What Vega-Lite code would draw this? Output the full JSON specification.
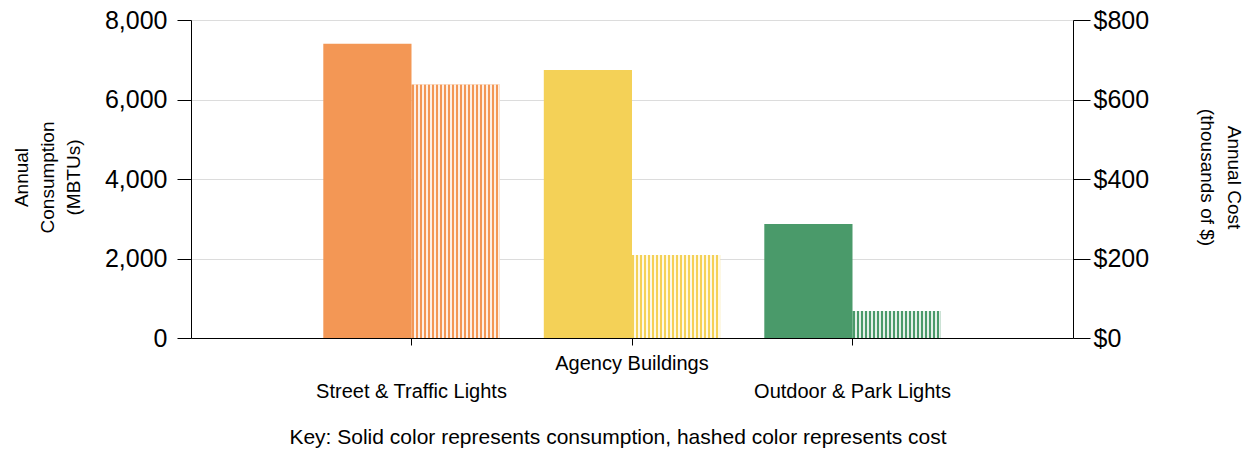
{
  "$schema": "https://vega.github.io/schema/vega-lite/v6.json",
  "width": 882,
  "height": 318,
  "autosize": {"type": "none"},
  "padding": {"left": 191, "top": 20, "right": 170, "bottom": 121},
  "background": "white",
  "config": {"font": "Liberation Sans", "view": {"stroke": null}},
  "title": {
    "text": "Key: Solid color represents consumption, hashed color represents cost",
    "orient": "bottom",
    "fontSize": 21,
    "fontWeight": "normal",
    "color": "black",
    "offset": 26,
    "dx": -14
  },
  "data": {
    "values": [
      {"category": "Street & Traffic Lights", "measure": "Consumption", "value": 7400},
      {"category": "Street & Traffic Lights", "measure": "Cost", "value": 638},
      {"category": "Agency Buildings", "measure": "Consumption", "value": 6740},
      {"category": "Agency Buildings", "measure": "Cost", "value": 209},
      {"category": "Outdoor & Park Lights", "measure": "Consumption", "value": 2870},
      {"category": "Outdoor & Park Lights", "measure": "Cost", "value": 68}
    ]
  },
  "encoding": {
    "x": {
      "field": "category",
      "type": "nominal",
      "sort": null,
      "scale": {"paddingInner": 0.2, "paddingOuter": 0.6},
      "axis": {
        "title": null,
        "labelAngle": 0,
        "labelFontSize": 20,
        "labelColor": "black",
        "labelPadding": 8,
        "labelLimit": 400,
        "labelLineHeight": 28,
        "labelOverlap": false,
        "labelExpr": "datum.value == 'Agency Buildings' ? datum.value : ['', datum.value]",
        "tickSize": 7,
        "tickColor": "black",
        "domainColor": "black",
        "grid": false
      }
    },
    "xOffset": {
      "field": "measure",
      "type": "nominal",
      "scale": {"domain": ["Consumption", "Cost"], "paddingInner": 0, "paddingOuter": 0}
    },
    "color": {
      "field": "category",
      "type": "nominal",
      "sort": null,
      "scale": {
        "domain": ["Street & Traffic Lights", "Agency Buildings", "Outdoor & Park Lights"],
        "range": ["#F39755", "#F4D157", "#4A9A6A"]
      },
      "legend": null
    }
  },
  "layer": [
    {
      "transform": [{"filter": "datum.measure == 'Consumption'"}],
      "mark": {"type": "bar"},
      "encoding": {
        "y": {
          "field": "value",
          "type": "quantitative",
          "scale": {"domain": [0, 8000]},
          "axis": {
            "orient": "left",
            "values": [0, 2000, 4000, 6000, 8000],
            "format": ",d",
            "labelFontSize": 25,
            "labelColor": "black",
            "labelPadding": 10,
            "tickSize": 14,
            "tickColor": "black",
            "domainColor": "black",
            "grid": true,
            "gridColor": "#dcdcdc",
            "title": ["Annual", "Consumption", "(MBTUs)"],
            "titleFontSize": 19,
            "titleFontWeight": "normal",
            "titleColor": "black",
            "titleLineHeight": 26,
            "titleAngle": -90,
            "titleAlign": "center",
            "titleBaseline": "top",
            "titleX": -179,
            "titleY": 157
          }
        }
      }
    },
    {
      "transform": [{"filter": "datum.measure == 'Cost'"}],
      "encoding": {
        "y": {
          "field": "value",
          "type": "quantitative",
          "scale": {"domain": [0, 800]},
          "axis": {
            "orient": "right",
            "values": [0, 200, 400, 600, 800],
            "labelExpr": "'$' + datum.label",
            "labelFontSize": 25,
            "labelColor": "black",
            "labelPadding": 3,
            "tickSize": 17,
            "tickColor": "black",
            "domainColor": "black",
            "grid": false,
            "title": ["Annual Cost", "(thousands of $)"],
            "titleFontSize": 19,
            "titleFontWeight": "normal",
            "titleColor": "black",
            "titleLineHeight": 27,
            "titleAngle": 90,
            "titleAlign": "center",
            "titleBaseline": "top",
            "titleX": 169,
            "titleY": 157
          }
        }
      },
      "layer": [
        {"mark": {"type": "bar"}},
        {
          "mark": {"type": "bar"},
          "encoding": {
            "color": {
              "value": {
                "gradient": "linear",
                "x1": 0, "y1": 0, "x2": 1, "y2": 0,
                "stops": [
                  {"offset": 0, "color": "rgba(255,255,255,0)"},
                  {"offset": 0.0227, "color": "rgba(255,255,255,0)"},
                  {"offset": 0.0227, "color": "rgba(255,255,255,0.85)"},
                  {"offset": 0.0455, "color": "rgba(255,255,255,0.85)"},
                  {"offset": 0.0455, "color": "rgba(255,255,255,0)"},
                  {"offset": 0.0682, "color": "rgba(255,255,255,0)"},
                  {"offset": 0.0682, "color": "rgba(255,255,255,0.85)"},
                  {"offset": 0.0909, "color": "rgba(255,255,255,0.85)"},
                  {"offset": 0.0909, "color": "rgba(255,255,255,0)"},
                  {"offset": 0.1136, "color": "rgba(255,255,255,0)"},
                  {"offset": 0.1136, "color": "rgba(255,255,255,0.85)"},
                  {"offset": 0.1364, "color": "rgba(255,255,255,0.85)"},
                  {"offset": 0.1364, "color": "rgba(255,255,255,0)"},
                  {"offset": 0.1591, "color": "rgba(255,255,255,0)"},
                  {"offset": 0.1591, "color": "rgba(255,255,255,0.85)"},
                  {"offset": 0.1818, "color": "rgba(255,255,255,0.85)"},
                  {"offset": 0.1818, "color": "rgba(255,255,255,0)"},
                  {"offset": 0.2045, "color": "rgba(255,255,255,0)"},
                  {"offset": 0.2045, "color": "rgba(255,255,255,0.85)"},
                  {"offset": 0.2273, "color": "rgba(255,255,255,0.85)"},
                  {"offset": 0.2273, "color": "rgba(255,255,255,0)"},
                  {"offset": 0.25, "color": "rgba(255,255,255,0)"},
                  {"offset": 0.25, "color": "rgba(255,255,255,0.85)"},
                  {"offset": 0.2727, "color": "rgba(255,255,255,0.85)"},
                  {"offset": 0.2727, "color": "rgba(255,255,255,0)"},
                  {"offset": 0.2955, "color": "rgba(255,255,255,0)"},
                  {"offset": 0.2955, "color": "rgba(255,255,255,0.85)"},
                  {"offset": 0.3182, "color": "rgba(255,255,255,0.85)"},
                  {"offset": 0.3182, "color": "rgba(255,255,255,0)"},
                  {"offset": 0.3409, "color": "rgba(255,255,255,0)"},
                  {"offset": 0.3409, "color": "rgba(255,255,255,0.85)"},
                  {"offset": 0.3636, "color": "rgba(255,255,255,0.85)"},
                  {"offset": 0.3636, "color": "rgba(255,255,255,0)"},
                  {"offset": 0.3864, "color": "rgba(255,255,255,0)"},
                  {"offset": 0.3864, "color": "rgba(255,255,255,0.85)"},
                  {"offset": 0.4091, "color": "rgba(255,255,255,0.85)"},
                  {"offset": 0.4091, "color": "rgba(255,255,255,0)"},
                  {"offset": 0.4318, "color": "rgba(255,255,255,0)"},
                  {"offset": 0.4318, "color": "rgba(255,255,255,0.85)"},
                  {"offset": 0.4545, "color": "rgba(255,255,255,0.85)"},
                  {"offset": 0.4545, "color": "rgba(255,255,255,0)"},
                  {"offset": 0.4773, "color": "rgba(255,255,255,0)"},
                  {"offset": 0.4773, "color": "rgba(255,255,255,0.85)"},
                  {"offset": 0.5, "color": "rgba(255,255,255,0.85)"},
                  {"offset": 0.5, "color": "rgba(255,255,255,0)"},
                  {"offset": 0.5227, "color": "rgba(255,255,255,0)"},
                  {"offset": 0.5227, "color": "rgba(255,255,255,0.85)"},
                  {"offset": 0.5455, "color": "rgba(255,255,255,0.85)"},
                  {"offset": 0.5455, "color": "rgba(255,255,255,0)"},
                  {"offset": 0.5682, "color": "rgba(255,255,255,0)"},
                  {"offset": 0.5682, "color": "rgba(255,255,255,0.85)"},
                  {"offset": 0.5909, "color": "rgba(255,255,255,0.85)"},
                  {"offset": 0.5909, "color": "rgba(255,255,255,0)"},
                  {"offset": 0.6136, "color": "rgba(255,255,255,0)"},
                  {"offset": 0.6136, "color": "rgba(255,255,255,0.85)"},
                  {"offset": 0.6364, "color": "rgba(255,255,255,0.85)"},
                  {"offset": 0.6364, "color": "rgba(255,255,255,0)"},
                  {"offset": 0.6591, "color": "rgba(255,255,255,0)"},
                  {"offset": 0.6591, "color": "rgba(255,255,255,0.85)"},
                  {"offset": 0.6818, "color": "rgba(255,255,255,0.85)"},
                  {"offset": 0.6818, "color": "rgba(255,255,255,0)"},
                  {"offset": 0.7045, "color": "rgba(255,255,255,0)"},
                  {"offset": 0.7045, "color": "rgba(255,255,255,0.85)"},
                  {"offset": 0.7273, "color": "rgba(255,255,255,0.85)"},
                  {"offset": 0.7273, "color": "rgba(255,255,255,0)"},
                  {"offset": 0.75, "color": "rgba(255,255,255,0)"},
                  {"offset": 0.75, "color": "rgba(255,255,255,0.85)"},
                  {"offset": 0.7727, "color": "rgba(255,255,255,0.85)"},
                  {"offset": 0.7727, "color": "rgba(255,255,255,0)"},
                  {"offset": 0.7955, "color": "rgba(255,255,255,0)"},
                  {"offset": 0.7955, "color": "rgba(255,255,255,0.85)"},
                  {"offset": 0.8182, "color": "rgba(255,255,255,0.85)"},
                  {"offset": 0.8182, "color": "rgba(255,255,255,0)"},
                  {"offset": 0.8409, "color": "rgba(255,255,255,0)"},
                  {"offset": 0.8409, "color": "rgba(255,255,255,0.85)"},
                  {"offset": 0.8636, "color": "rgba(255,255,255,0.85)"},
                  {"offset": 0.8636, "color": "rgba(255,255,255,0)"},
                  {"offset": 0.8864, "color": "rgba(255,255,255,0)"},
                  {"offset": 0.8864, "color": "rgba(255,255,255,0.85)"},
                  {"offset": 0.9091, "color": "rgba(255,255,255,0.85)"},
                  {"offset": 0.9091, "color": "rgba(255,255,255,0)"},
                  {"offset": 0.9318, "color": "rgba(255,255,255,0)"},
                  {"offset": 0.9318, "color": "rgba(255,255,255,0.85)"},
                  {"offset": 0.9545, "color": "rgba(255,255,255,0.85)"},
                  {"offset": 0.9545, "color": "rgba(255,255,255,0)"},
                  {"offset": 0.9773, "color": "rgba(255,255,255,0)"},
                  {"offset": 0.9773, "color": "rgba(255,255,255,0.85)"},
                  {"offset": 1, "color": "rgba(255,255,255,0.85)"}
                ]
              }
            }
          }
        }
      ]
    }
  ],
  "resolve": {"scale": {"y": "independent"}}
}
